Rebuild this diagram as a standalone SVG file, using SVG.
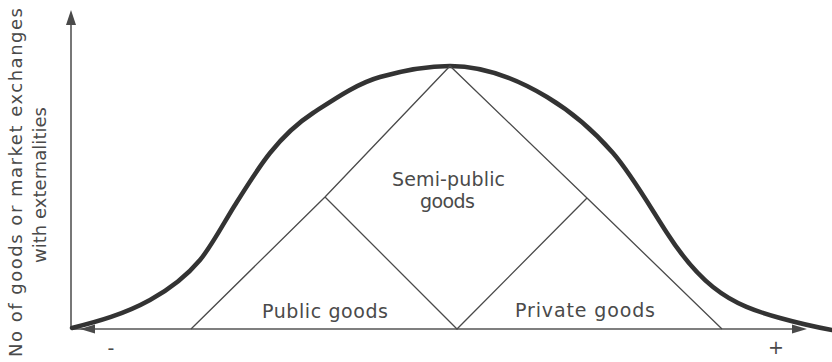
<svg xmlns="http://www.w3.org/2000/svg" width="832" height="362" viewBox="0 0 832 362">
  <style>
    .lbl { font-family: "DejaVu Sans", "Liberation Sans", sans-serif; font-size: 19px; fill: #4a4a4a; }
    .ylbl { font-family: "DejaVu Sans", "Liberation Sans", sans-serif; font-size: 18px; fill: #4a4a4a; }
    .axis { stroke: #555; stroke-width: 1.6; fill: none; }
    .edge { stroke: #4a4a4a; stroke-width: 1.3; fill: none; }
    .curve { stroke: #333; stroke-width: 4.5; fill: none; stroke-linecap: round; }
    .head { fill: #4a4a4a; }
  </style>
  <rect width="832" height="362" fill="#ffffff"/>

  <!-- axes -->
  <g id="axes">
    <line class="axis" x1="71" y1="329" x2="71" y2="20"/>
    <polygon class="head" points="71,10 66,25 76,25"/>
    <line class="axis" x1="72" y1="329" x2="798" y2="329"/>
    <polygon class="head" points="80,329 95,324.5 95,333.5"/>
    <polygon class="head" points="807,329 792,324.5 792,333.5"/>
    <text class="lbl" x="111" y="355" text-anchor="middle">-</text>
    <text class="lbl" x="776" y="354" text-anchor="middle">+</text>
    <text class="ylbl" transform="translate(22,182.5) rotate(-90)" text-anchor="middle" textLength="349" lengthAdjust="spacing">No of goods or market exchanges</text>
    <text class="ylbl" transform="translate(46,185) rotate(-90)" text-anchor="middle" textLength="156" lengthAdjust="spacing">with externalities</text>
  </g>

  <!-- bell curve -->
  <g id="curve">
    <path class="curve" d="M72,328 C98,321.5 124,314.3 150,300 C166.7,290.8 183.3,280 200,260 C211.7,246 223.3,223.7 235,205 C246.7,186.3 258.3,167.6 270,153 C284.3,135.1 298.7,122.3 313,113 C335.3,98.5 357.7,83.2 380,77 C403.3,70.5 426.7,66 450,66 C482.3,66 514.7,77.6 547,97 C569,110.2 591,127.7 613,153 C631,173.7 649,205.1 667,233 C682.3,256.8 697.7,274.7 713,287 C735.3,304.9 757.7,311.8 780,318 C797.3,322.8 814.7,326.9 832,330"/>
  </g>

  <!-- partition lines -->
  <g id="connectors">
    <polyline class="edge" points="191,329 325,197 450,66 587,198 722,329"/>
    <polyline class="edge" points="325,197 457,329 587,198"/>
  </g>

  <g id="node-semi-public">
    <text class="lbl" x="448.5" y="186" text-anchor="middle" textLength="113" lengthAdjust="spacing">Semi-public</text>
    <text class="lbl" x="447.5" y="208" text-anchor="middle" textLength="55" lengthAdjust="spacing">goods</text>
  </g>
  <g id="node-public">
    <text class="lbl" x="325" y="318" text-anchor="middle" textLength="126" lengthAdjust="spacing">Public goods</text>
  </g>
  <g id="node-private">
    <text class="lbl" x="585" y="317" text-anchor="middle" textLength="140" lengthAdjust="spacing">Private goods</text>
  </g>
</svg>
